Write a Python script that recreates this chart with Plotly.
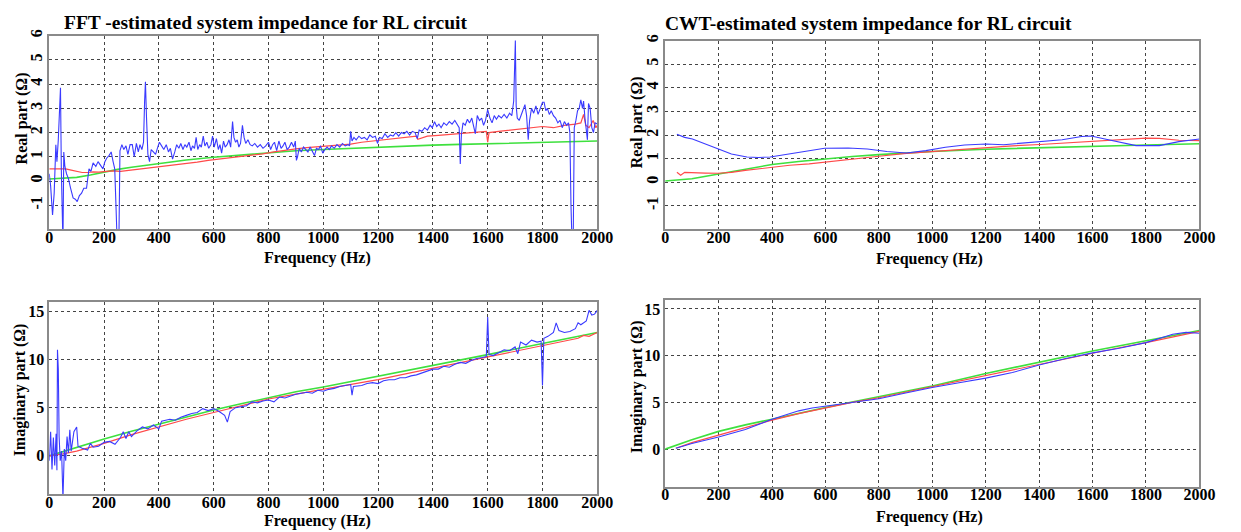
import plotly.graph_objects as go

# ---------------- data ----------------
# FFT real part
fft_re_blue_f = [0,5,12,18,24,28,33,38,41,44,47,50,53,57,63,70,78,87,95,102,110,118,126,136,145,152,160,170,178,188,196,203,210,218,226,233,239,244,248,254,258,265,272,280,287,295,303,310,318,325,331,338,344,348,351,355,360,366,372,380,388,396,402,410,418,427,435,442,450,458,465,473,480,488,495,502,510,517,523,530,536,542,549,555,562,568,575,582,590,596,602,610,617,623,629,636,642,649,656,662,669,674,680,686,692,698,705,711,717,725,733,741,750,760,770,780,790,800,808,815,822,830,838,846,853,860,868,876,884,892,898,902,906,912,920,928,936,944,952,960,968,975,983,990,998,1006,1014,1022,1030,1040,1050,1060,1070,1080,1090,1096,1100,1105,1112,1120,1130,1140,1150,1160,1170,1180,1190,1198,1205,1215,1225,1235,1245,1255,1265,1275,1285,1295,1305,1315,1325,1335,1343,1350,1360,1370,1380,1390,1398,1406,1414,1422,1430,1440,1450,1460,1470,1480,1490,1496,1500,1504,1510,1518,1526,1534,1542,1550,1555,1562,1570,1578,1585,1592,1600,1608,1616,1624,1632,1640,1650,1660,1670,1680,1688,1695,1698,1701,1704,1708,1715,1722,1730,1736,1742,1748,1753,1760,1768,1776,1784,1792,1800,1806,1812,1818,1825,1832,1840,1848,1856,1864,1872,1880,1888,1895,1900,1904,1908,1912,1916,1922,1928,1934,1940,1946,1950,1955,1960,1964,1968,1974,1980,1986,1992,2000]
fft_re_blue = [0.3,-0.2,-1.4,-0.5,1.5,0.8,1.7,3.2,3.85,0.5,-2.6,-2.6,1.2,0.6,0.3,0.1,-0.3,-0.7,-0.75,-0.85,-0.6,-0.5,-0.3,-0.3,0.5,0.4,0.75,0.6,0.8,0.65,0.5,0.8,0.95,1.05,1.2,0.8,0.5,-1.2,-2.6,-2.6,1.25,1.5,1.3,1.45,1.1,1.5,1.5,1.0,1.55,1.2,1.5,1.3,1.6,3.3,4.1,2.6,1.1,0.8,1.3,1.2,1.1,1.4,1.6,1.45,1.3,1.5,1.2,1.35,0.9,1.2,1.5,1.35,1.55,1.3,1.5,1.4,1.6,1.25,1.45,1.35,1.8,1.3,1.5,1.4,1.85,1.45,1.6,1.35,1.5,1.85,1.4,1.75,1.3,1.5,1.15,1.65,1.4,1.5,1.7,1.4,2.45,1.8,1.6,1.7,1.4,1.55,2.3,1.8,1.55,1.7,1.5,1.45,1.55,1.4,1.5,1.35,1.45,1.6,1.3,1.5,1.6,1.25,1.65,1.35,1.45,1.6,1.3,1.4,1.6,1.4,1.65,0.85,1.0,1.35,1.2,1.4,1.3,1.2,1.4,1.25,1.05,1.35,1.3,1.45,1.15,1.3,1.4,1.3,1.45,1.35,1.5,1.4,1.55,1.45,1.5,1.45,2.05,1.65,1.8,1.7,1.85,1.75,1.8,1.7,1.9,1.8,1.85,1.55,1.8,1.75,1.95,1.8,1.9,1.85,2.0,1.85,2.0,1.95,2.05,1.9,2.05,2.0,1.75,2.1,2.05,2.2,2.1,2.3,2.2,2.45,2.25,2.35,2.2,2.4,2.3,2.45,2.35,2.5,2.3,2.2,0.7,1.9,2.4,2.3,2.55,2.4,2.6,2.2,1.95,2.7,2.5,2.6,2.3,2.5,2.95,2.6,2.4,2.7,2.55,2.7,2.6,2.75,2.6,2.8,2.7,3.3,5.0,5.8,3.1,2.6,2.5,2.7,2.9,3.15,2.7,1.7,2.5,3.0,2.8,3.1,2.75,3.0,3.25,3.25,2.9,3.0,2.75,2.9,2.7,2.6,2.4,2.5,2.2,2.45,2.3,2.4,2.0,-1.0,-2.6,-2.6,2.2,2.5,2.9,3.0,3.35,3.0,3.3,2.6,2.2,1.7,3.2,3.0,2.2,2.0,2.4,2.35]
fft_re_red_f = [0,20,40,60,80,100,120,140,160,180,200,230,260,300,340,380,420,460,500,540,580,620,660,700,740,780,820,860,900,940,980,1020,1060,1100,1140,1180,1220,1260,1300,1340,1345,1380,1420,1460,1500,1540,1580,1595,1600,1605,1640,1680,1720,1760,1800,1840,1880,1920,1940,1950,1958,1970,1985,1995,2000]
fft_re_red = [0.5,0.5,0.48,0.5,0.45,0.4,0.35,0.35,0.38,0.37,0.4,0.42,0.4,0.45,0.5,0.55,0.62,0.68,0.72,0.78,0.85,0.9,0.95,1.02,1.08,1.12,1.2,1.28,1.33,1.38,1.42,1.45,1.5,1.52,1.6,1.65,1.7,1.75,1.78,1.85,1.72,1.85,1.88,1.92,1.95,2.0,2.02,2.05,1.6,2.0,2.05,2.1,2.15,2.18,2.25,2.2,2.3,2.35,2.4,2.75,2.3,2.2,2.5,2.2,2.3]
fft_re_green_f = [0,50,100,150,200,250,300,350,400,450,500,600,700,800,900,1000,1100,1200,1300,1400,1500,1600,1700,1800,1900,2000]
fft_re_green = [0.08,0.1,0.15,0.25,0.37,0.48,0.57,0.65,0.73,0.8,0.87,0.98,1.08,1.17,1.25,1.3,1.35,1.4,1.44,1.48,1.51,1.54,1.57,1.6,1.63,1.65]

# CWT real part
cwt_re_blue_f = [44,73,102,150,197,248,306,350,393,466,539,597,685,757,830,903,976,1049,1121,1202,1267,1340,1413,1486,1559,1595,1646,1704,1763,1850,1923,2000]
cwt_re_blue = [2.03,1.9,1.83,1.62,1.41,1.2,1.07,1.05,1.07,1.2,1.34,1.44,1.45,1.41,1.3,1.24,1.34,1.48,1.58,1.62,1.59,1.65,1.72,1.8,1.94,1.96,1.83,1.69,1.55,1.55,1.72,1.83]
cwt_re_red_f = [44,58,73,102,150,197,248,300,393,466,539,600,685,800,903,1000,1121,1202,1300,1403,1500,1602,1704,1800,1850,1923,2000]
cwt_re_red = [0.42,0.3,0.42,0.4,0.39,0.38,0.42,0.5,0.63,0.72,0.78,0.86,0.95,1.1,1.22,1.3,1.42,1.48,1.54,1.6,1.66,1.72,1.8,1.87,1.86,1.78,1.76]
cwt_re_green_f = [0,100,200,300,400,500,600,700,800,900,1000,1200,1400,1600,1800,2000]
cwt_re_green = [0.05,0.15,0.35,0.55,0.75,0.88,1.0,1.09,1.17,1.24,1.3,1.4,1.47,1.53,1.58,1.63]

# FFT imaginary part
fft_im_blue_f = [0,5,10,15,20,25,28,30,33,36,40,45,50,55,60,65,70,75,80,90,100,105,120,140,150,160,180,200,220,240,260,270,280,290,300,320,340,360,380,400,410,440,460,480,500,520,540,560,580,600,620,640,650,660,680,700,720,740,760,780,800,820,840,860,880,900,920,940,960,980,1000,1020,1040,1060,1080,1100,1105,1110,1140,1160,1180,1200,1220,1240,1260,1280,1300,1320,1340,1360,1380,1400,1420,1440,1460,1480,1500,1520,1540,1560,1580,1595,1600,1605,1620,1640,1660,1680,1700,1710,1720,1740,1760,1780,1795,1800,1805,1820,1840,1850,1860,1880,1900,1920,1930,1940,1960,1970,1980,1990,2000]
fft_im_blue = [-0.5,2.5,-1.4,1.9,-1.0,2.3,-1.5,11.0,9.0,2.0,-0.5,0.5,-4.5,0.7,-0.5,2.0,0.3,2.7,0.5,2.5,3.0,1.0,0.8,0.6,1.3,0.9,1.0,1.4,1.5,1.2,1.9,2.5,1.8,2.5,2.0,2.6,3.0,2.8,3.2,2.8,3.6,3.8,3.7,4.0,4.2,4.4,4.5,4.9,4.7,4.9,4.6,4.2,3.5,4.6,5.0,5.1,5.2,5.6,5.5,5.7,5.8,5.6,6.1,6.0,6.2,6.4,6.5,6.6,6.5,6.8,6.7,6.9,7.0,7.2,7.3,7.4,6.3,7.2,7.3,7.5,7.6,7.5,7.8,7.9,7.9,8.1,8.1,8.3,8.4,8.6,8.8,9.0,9.0,9.3,9.2,9.5,9.7,9.6,9.9,10.1,10.2,10.3,14.4,10.5,10.4,10.7,11.0,10.9,11.3,10.6,11.8,11.5,12.0,11.8,11.9,7.3,12.2,12.4,12.8,13.8,13.0,12.8,12.9,13.2,13.8,13.6,14.0,15.1,14.6,14.7,15.1]
fft_im_red_f = [0,50,100,200,300,400,500,600,700,800,900,1000,1100,1200,1300,1400,1500,1600,1700,1800,1850,1900,1930,1950,1970,2000]
fft_im_red = [0.0,0.2,0.5,1.3,2.2,3.0,3.8,4.5,5.2,5.9,6.4,6.9,7.4,7.9,8.5,9.1,9.7,10.3,10.9,11.5,11.8,12.1,12.2,12.5,12.4,12.8]
fft_im_green_f = [0,100,200,300,400,500,600,700,800,900,1000,1200,1400,1600,1800,2000]
fft_im_green = [0.0,0.9,1.75,2.55,3.3,4.05,4.75,5.4,6.05,6.65,7.15,8.25,9.35,10.5,11.65,12.8]

# CWT imaginary part
cwt_im_blue_f = [40,100,200,300,400,500,550,600,700,800,900,1000,1100,1200,1300,1400,1500,1600,1700,1800,1900,1950,2000]
cwt_im_blue = [0.1,0.6,1.3,2.1,3.2,4.1,4.4,4.6,5.0,5.4,6.0,6.6,7.1,7.6,8.2,9.0,9.7,10.3,10.8,11.4,12.3,12.5,12.4]
cwt_im_red_f = [40,100,200,300,400,500,600,700,800,900,1000,1100,1200,1300,1400,1500,1600,1700,1800,1900,2000]
cwt_im_red = [0.1,0.7,1.5,2.3,3.1,3.8,4.4,5.0,5.5,6.1,6.7,7.3,7.9,8.5,9.1,9.7,10.3,10.85,11.4,12.0,12.6]
cwt_im_green_f = [0,100,200,300,400,500,600,700,800,900,1000,1200,1400,1600,1800,2000]
cwt_im_green = [0.0,1.0,1.9,2.6,3.2,3.85,4.45,5.05,5.6,6.2,6.75,8.1,9.3,10.5,11.6,12.7]

titles = ["FFT -estimated system impedance for RL circuit", "CWT-estimated system impedance for RL circuit"]
x_label = "Frequency (Hz)"
y_labels = ["Real part (\u03a9)", "Imaginary part (\u03a9)"]
x_ticks = [0,200,400,600,800,1000,1200,1400,1600,1800,2000]
re_ticks = [-1,0,1,2,3,4,5,6]
im_ticks = [0,5,10,15]

# ---------------- styling ----------------
W, H = 1241, 532
FONT = "Liberation Serif"
BLUE = "#3a3aff"
RED = "#ff4a4a"
GREEN = "#3ee03e"

fig = go.Figure()

def add(xs, ys, color, xa, ya, width=1.2):
    fig.add_trace(go.Scatter(x=xs, y=ys, mode="lines", line=dict(color=color, width=width),
                             xaxis=xa, yaxis=ya, showlegend=False, hoverinfo="skip"))

panels = [
    ("x", "y", fft_re_green_f, fft_re_green, fft_re_red_f, fft_re_red, fft_re_blue_f, fft_re_blue),
    ("x2", "y2", cwt_re_green_f, cwt_re_green, cwt_re_red_f, cwt_re_red, cwt_re_blue_f, cwt_re_blue),
    ("x3", "y3", fft_im_green_f, fft_im_green, fft_im_red_f, fft_im_red, fft_im_blue_f, fft_im_blue),
    ("x4", "y4", cwt_im_green_f, cwt_im_green, cwt_im_red_f, cwt_im_red, cwt_im_blue_f, cwt_im_blue),
]
for xa, ya, gf, g, rf, r, bf, b in panels:
    add(gf, g, GREEN, xa, ya, 1.6)
    add(rf, r, RED, xa, ya, 1.2)
    add(bf, b, BLUE, xa, ya, 1.1)

def px_x(p):
    return p / W

def px_y(p):
    return 1 - p / H

# pixel boxes: (left, right, top, bottom)
boxes = [(46, 603, 30, 226), (672, 1215, 35, 226), (46, 603, 299, 494), (672, 1215, 297, 486)]

tickfont = dict(family=FONT, size=16, color="black")
common_axis = dict(showline=True, linecolor="#8a8a8a", linewidth=1.5, mirror=True,
                   showgrid=True, gridcolor="#444444", griddash="dot", gridwidth=1,
                   zeroline=False, ticks="", tickfont=tickfont)

def bold(vals):
    return ["<b>%s</b>" % v for v in vals]

layout = dict(width=W, height=H, margin=dict(l=0, r=0, t=0, b=0),
              font=dict(family=FONT, color="black"),
              paper_bgcolor="white", plot_bgcolor="white", showlegend=False)

for i, (l, r, t, b) in enumerate(boxes):
    n = "" if i == 0 else str(i + 1)
    xdom = [px_x(l), px_x(r)]
    ydom = [px_y(b), px_y(t)]
    layout["xaxis" + n] = dict(domain=xdom, anchor="y" + n, range=[0, 2000],
                               tickvals=x_ticks, ticktext=bold(x_ticks), ticklabelstandoff=-7, **common_axis)
    if i < 2:
        layout["yaxis" + n] = dict(domain=ydom, anchor="x" + n, range=[-2, 6],
                                   tickvals=re_ticks, ticktext=bold(re_ticks), tickangle=-90,
                                   ticklabelstandoff=-1, **common_axis)
    else:
        layout["yaxis" + n] = dict(domain=ydom, anchor="x" + n, range=[-4, 16],
                                   tickvals=im_ticks, ticktext=bold(im_ticks), ticklabelstandoff=0, **common_axis)

fig.update_layout(**layout)

labfont = dict(family=FONT, size=16, color="black")
tfont = dict(family=FONT, size=19.5, color="black")
annots = [
    dict(text="<b>%s</b>" % titles[0], x=px_x(266), y=px_y(17), font=tfont),
    dict(text="<b>%s</b>" % titles[1], x=px_x(879), y=px_y(18), font=tfont),
    dict(text="<b>%s</b>" % x_label, x=px_x(319), y=px_y(255), font=labfont),
    dict(text="<b>%s</b>" % x_label, x=px_x(941), y=px_y(256), font=labfont),
    dict(text="<b>%s</b>" % x_label, x=px_x(319), y=px_y(521), font=labfont),
    dict(text="<b>%s</b>" % x_label, x=px_x(941), y=px_y(517), font=labfont),
    dict(text="<b>%s</b>" % y_labels[0], x=px_x(18), y=px_y(114), textangle=-90, font=labfont),
    dict(text="<b>%s</b>" % y_labels[0], x=px_x(643), y=px_y(118), textangle=-90, font=labfont),
    dict(text="<b>%s</b>" % y_labels[1], x=px_x(16), y=px_y(388), textangle=-90, font=labfont),
    dict(text="<b>%s</b>" % y_labels[1], x=px_x(643), y=px_y(385), textangle=-90, font=labfont),
]
for a in annots:
    fig.add_annotation(xref="paper", yref="paper", showarrow=False, xanchor="center", yanchor="middle", **a)

fig.write_html("out.html")
